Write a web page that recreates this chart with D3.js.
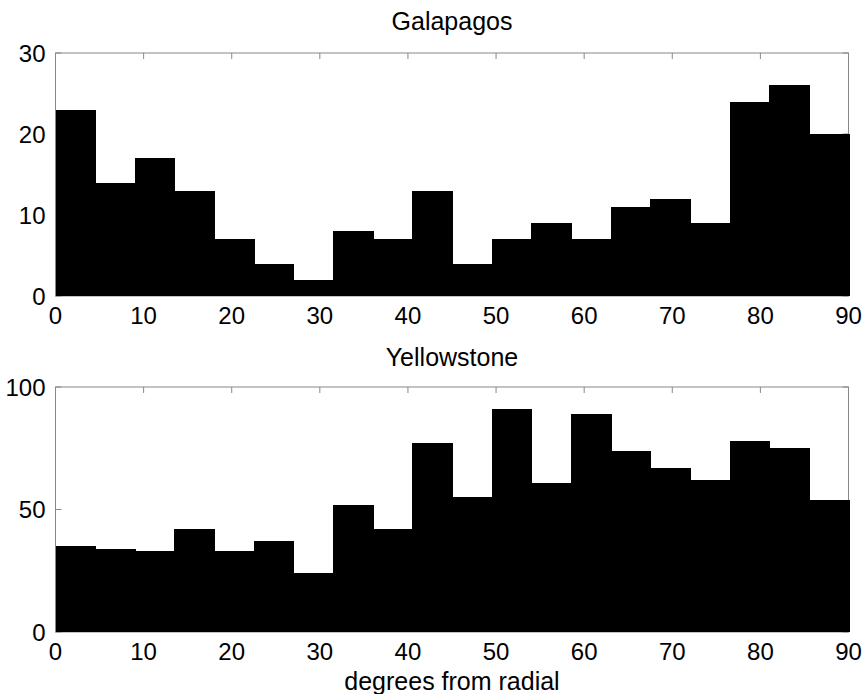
<!DOCTYPE html>
<html>
<head>
<meta charset="utf-8">
<script src="https://cdn.jsdelivr.net/npm/d3@7"></script>
<style>
  html, body { margin: 0; padding: 0; background: #fff; }
  svg { display: block; font-family: "Liberation Sans", Arial, sans-serif; }
</style>
</head>
<body>
<svg id="chart" width="865" height="694"></svg>
<script>
// ---- data ----
const binStarts = [0, 4.5, 9, 13.5, 18, 22.5, 27, 31.5, 36, 40.5, 45, 49.5, 54, 58.5, 63, 67.5, 72, 76.5, 81, 85.5];
const binWidth = 4.5;
const galapagos = [23, 14, 17, 13, 7, 4, 2, 8, 7, 13, 4, 7, 9, 7, 11, 12, 9, 24, 26, 20];
const yellowstone = [35, 34, 33, 42, 33, 37, 24, 52, 42, 77, 55, 91, 61, 89, 74, 67, 62, 78, 75, 54];
const xTicks = [0, 10, 20, 30, 40, 50, 60, 70, 80, 90];
const galTicks = [0, 10, 20, 30];
const yelTicks = [0, 50, 100];
const titles = ["Galapagos", "Yellowstone"];
const xLabel = "degrees from radial";

const svg = d3.select("#chart");
const left = 55.5, right = 848.5;
const x = d3.scaleLinear().domain([0, 90]).range([left, right]);

const panels = [
  { title: titles[0], values: galapagos, ticks: galTicks, ymax: 30, top: 53, bottom: 296, titleY: 30 },
  { title: titles[1], values: yellowstone, ticks: yelTicks, ymax: 100, top: 387, bottom: 632, titleY: 366 }
];

const axisColor = "#888";
const tickLen = 6;

panels.forEach(p => {
  const y = d3.scaleLinear().domain([0, p.ymax]).range([p.bottom, p.top]);
  const g = svg.append("g");

  g.append("rect")
    .attr("x", left).attr("y", p.top)
    .attr("width", right - left).attr("height", p.bottom - p.top)
    .attr("fill", "none").attr("stroke", axisColor).attr("stroke-width", 1);

  xTicks.forEach(t => {
    g.append("line").attr("x1", x(t)).attr("x2", x(t))
      .attr("y1", p.top).attr("y2", p.top + tickLen)
      .attr("stroke", axisColor);
    g.append("line").attr("x1", x(t)).attr("x2", x(t))
      .attr("y1", p.bottom).attr("y2", p.bottom - tickLen)
      .attr("stroke", axisColor);
  });
  p.ticks.forEach(t => {
    g.append("line").attr("x1", left).attr("x2", left + tickLen)
      .attr("y1", y(t)).attr("y2", y(t)).attr("stroke", axisColor);
    g.append("line").attr("x1", right).attr("x2", right - tickLen)
      .attr("y1", y(t)).attr("y2", y(t)).attr("stroke", axisColor);
  });

  g.selectAll("rect.bar")
    .data(p.values)
    .enter().append("rect")
    .attr("class", "bar")
    .attr("x", (d, i) => x(binStarts[i]))
    .attr("width", (d, i) => x(binStarts[i] + binWidth) - x(binStarts[i]) + 1)
    .attr("y", d => y(d))
    .attr("height", d => y(0) - y(d))
    .attr("fill", "#000")
    .attr("shape-rendering", "crispEdges");

  g.selectAll("text.ylab")
    .data(p.ticks)
    .enter().append("text")
    .attr("x", left - 10)
    .attr("y", d => y(d))
    .attr("dy", "0.36em")
    .attr("text-anchor", "end")
    .attr("font-size", 24)
    .attr("fill", "#000")
    .text(d => d);

  g.selectAll("text.xlab")
    .data(xTicks)
    .enter().append("text")
    .attr("x", d => x(d))
    .attr("y", p.bottom + 28)
    .attr("text-anchor", "middle")
    .attr("font-size", 24)
    .attr("fill", "#000")
    .text(d => d);

  g.append("text")
    .attr("x", (left + right) / 2)
    .attr("y", p.titleY)
    .attr("text-anchor", "middle")
    .attr("font-size", 25)
    .attr("fill", "#000")
    .text(p.title);
});

svg.append("text")
  .attr("x", (left + right) / 2)
  .attr("y", 690)
  .attr("text-anchor", "middle")
  .attr("font-size", 25)
  .attr("fill", "#000")
  .text(xLabel);
</script>
</body>
</html>
